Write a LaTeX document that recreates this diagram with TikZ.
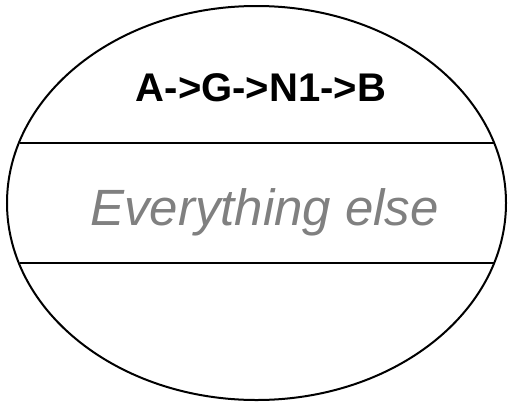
\documentclass[tikz,border=0pt]{standalone}
\usepackage{fontspec}
\newfontfamily\arial{Liberation Sans}
\definecolor{grijs}{HTML}{808080}

\begin{document}
\begin{tikzpicture}[x=1pt, y=-1pt]

% --- Styles ---
\tikzset{
    pad/.style={
        font=\arial\fontsize{40}{44}\selectfont\bfseries,
        text=black,
        anchor=base,
        inner sep=0pt
    },
    rest/.style={
        font=\arial\fontsize{51}{56}\selectfont\itshape,
        text=grijs,
        anchor=base,
        inner sep=0pt
    },
    lijn/.style={
        draw=black,
        line width=2pt
    }
}

\useasboundingbox (0,0) rectangle (508,402);

% --- Ellipse ---
\draw[lijn] (256.5,203) ellipse [x radius=249.5pt, y radius=197pt];

% --- Texts ---
\node[pad]  (route) at (261,101)   {A->G->N1->B};
\node[rest] (else)  at (264.5,225) {Everything else};

% --- Chords ---
\coordinate (b1) at (19.5,142.5);
\coordinate (b2) at (493.5,142.5);
\coordinate (o1) at (19.5,263.3);
\coordinate (o2) at (493.5,263.3);

\draw[lijn] (b1) -- (b2);
\draw[lijn] (o1) -- (o2);

\end{tikzpicture}
\end{document}
